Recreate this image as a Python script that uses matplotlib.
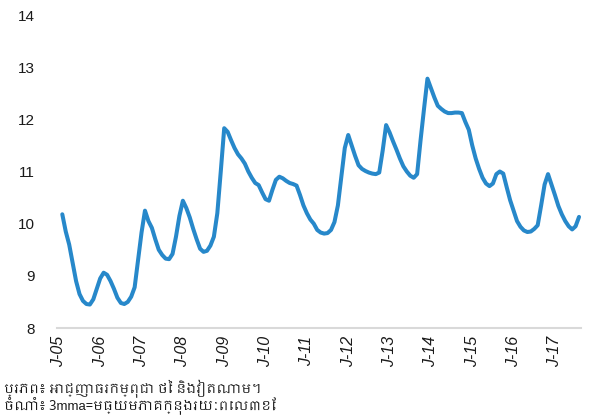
import matplotlib
matplotlib.use("Agg")
import matplotlib.pyplot as plt
from matplotlib import font_manager
import numpy as np

# ---- data (3-month moving average, Feb-2005 .. Aug-2017) ----
values = [
    10.18, 9.85, 9.60, 9.25, 8.90, 8.65, 8.52, 8.46, 8.45, 8.55, 8.75, 8.95,
    9.06, 9.02, 8.90, 8.75, 8.58, 8.48, 8.46, 8.50, 8.60, 8.78, 9.30, 9.83,
    10.25, 10.05, 9.92, 9.70, 9.50, 9.40, 9.33, 9.32, 9.42, 9.75, 10.15, 10.44,
    10.30, 10.12, 9.90, 9.70, 9.52, 9.46, 9.48, 9.58, 9.75, 10.20, 11.00, 11.83,
    11.76, 11.60, 11.45, 11.33, 11.25, 11.15, 11.00, 10.88, 10.78, 10.74, 10.60, 10.47,
    10.44, 10.65, 10.84, 10.90, 10.87, 10.82, 10.78, 10.76, 10.73, 10.55, 10.35, 10.20,
    10.08, 10.00, 9.88, 9.83, 9.81, 9.82, 9.88, 10.03, 10.35, 10.90, 11.45, 11.70,
    11.50, 11.30, 11.12, 11.05, 11.01, 10.98, 10.96, 10.95, 10.98, 11.40, 11.89, 11.75,
    11.58, 11.42, 11.25, 11.10, 11.00, 10.92, 10.88, 10.95, 11.60, 12.20, 12.78, 12.60,
    12.42, 12.26, 12.20, 12.15, 12.12, 12.12, 12.13, 12.13, 12.12, 11.95, 11.80, 11.50,
    11.25, 11.05, 10.88, 10.77, 10.72, 10.77, 10.95, 11.00, 10.96, 10.70, 10.45, 10.25,
    10.05, 9.94, 9.87, 9.84, 9.85, 9.90, 9.97, 10.35, 10.75, 10.95, 10.75, 10.55,
    10.34, 10.18, 10.05, 9.95, 9.89, 9.95, 10.13,
]
start_month = 1  # Feb-2005 (months counted from Jan-2005)
tick_labels = ["J-05", "J-06", "J-07", "J-08", "J-09", "J-10", "J-11",
               "J-12", "J-13", "J-14", "J-15", "J-16", "J-17"]
y_ticks = [8, 9, 10, 11, 12, 13, 14]
footer_lines = ["ប្រភព៖ អាជ្ញាធរកម្ពុជា ថៃ និងវៀតណាម។",
                "ចំណាំ៖ 3mma=មធ្យមភាគក្នុងរយៈពេល៣ខែ"]

# ---- find a font with Khmer glyphs ----
khmer_family = None
try:
    from fontTools.ttLib import TTFont
    cands = []
    for fe in font_manager.fontManager.ttflist:
        try:
            if fe.fname.lower().endswith((".ttc", ".otc")):
                f = TTFont(fe.fname, fontNumber=0, lazy=True)
            else:
                f = TTFont(fe.fname, lazy=True)
            cmap = f.getBestCmap()
            if cmap and 0x1780 in cmap and 0x17D4 in cmap:
                cands.append(fe.name)
        except Exception:
            pass
    if cands:
        pref = [c for c in cands if "Khmer" in c]
        khmer_family = (pref or cands)[0]
except Exception:
    pass

base_font = "Liberation Sans"
footer_family = [khmer_family, base_font] if khmer_family else [base_font, "DejaVu Sans"]

plt.rcParams["font.family"] = [base_font, "DejaVu Sans"]

fig = plt.figure(figsize=(5.89, 4.17), dpi=100)
ax = fig.add_axes([0.097, 0.2134, 0.889, 0.7506])

x = np.arange(len(values)) + start_month
ax.plot(x, values, color="#2788CA", lw=2.9, solid_joinstyle="round",
        solid_capstyle="round")

ax.set_ylim(8, 14)
ax.set_yticks(y_ticks)
ax.set_yticklabels([str(t) for t in y_ticks], fontsize=11, color="#1a1a1a")
ax.set_xlim(-0.5, 151.5)
ax.set_xticks(np.arange(len(tick_labels)) * 12)
ax.set_xticklabels(tick_labels, rotation=90, fontsize=11.5, style="italic",
                   color="#1a1a1a")

for s in ["top", "right", "left"]:
    ax.spines[s].set_visible(False)
ax.spines["bottom"].set_color("#D9D9D9")
ax.spines["bottom"].set_linewidth(1.5)
ax.tick_params(axis="y", length=0, pad=16)
ax.tick_params(axis="x", length=0, pad=6)

fig.text(0.007, 0.045, footer_lines[0], fontsize=9.5, family=footer_family,
         color="#1a1a1a", va="bottom", ha="left")
fig.text(0.007, 0.006, footer_lines[1], fontsize=9.5, family=footer_family,
         color="#1a1a1a", va="bottom", ha="left")

fig.savefig("out.png", dpi=100)
